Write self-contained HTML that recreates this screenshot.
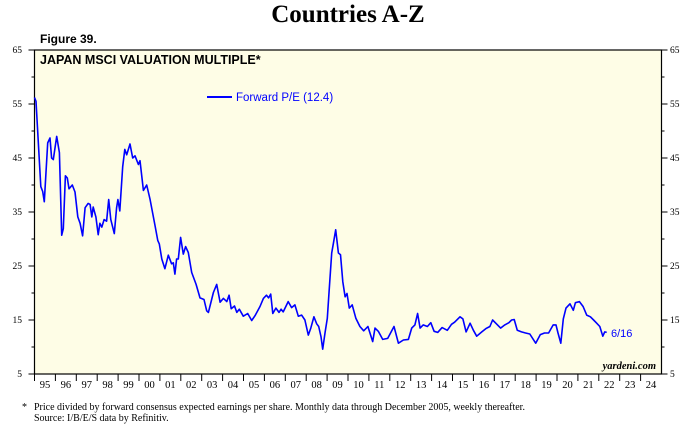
<!DOCTYPE html>
<html><head><meta charset="utf-8"><style>
body{margin:0;background:#fff;width:696px;height:442px;overflow:hidden}
svg{display:block}
</style></head><body>
<svg id="chart" width="696" height="442" xmlns="http://www.w3.org/2000/svg">
<text x="348" y="22" text-anchor="middle" font-family="Liberation Serif" font-weight="bold" font-size="25">Countries A-Z</text>
<text x="40" y="43" font-family="Liberation Sans" font-weight="bold" font-size="12">Figure 39.</text>
<rect x="34.5" y="50" width="627" height="324" fill="#fefde6" stroke="#000" stroke-width="1.2"/>
<text x="40" y="64" font-family="Liberation Sans" font-weight="bold" font-size="12.5">JAPAN MSCI VALUATION MULTIPLE*</text>
<g>
<line x1="207" y1="97" x2="232" y2="97" stroke="#0000ff" stroke-width="2"/>
<text x="236" y="101" font-family="Liberation Sans" font-size="11.5" fill="#0000ff">Forward P/E (12.4)</text>
</g>
<g id="axes"></g>
<path id="series" fill="none" stroke="#0000ff" stroke-width="1.6" stroke-linejoin="round"/>
<text x="611" y="337" font-family="Liberation Sans" font-size="11" fill="#0000ff">6/16</text>
<text x="656" y="369" text-anchor="end" font-family="Liberation Serif" font-style="italic" font-weight="bold" font-size="10.5">yardeni.com</text>
<text x="22" y="410" font-family="Liberation Serif" font-size="10">*</text>
<text x="34" y="410" font-family="Liberation Serif" font-size="10">Price divided by forward consensus expected earnings per share. Monthly data through December 2005, weekly thereafter.</text>
<text x="34" y="421" font-family="Liberation Serif" font-size="10">Source: I/B/E/S data by Refinitiv.</text>
</svg>
<script>
const yearLabels=["95","96","97","98","99","00","01","02","03","04","05","06","07","08","09","10","11","12","13","14","15","16","17","18","19","20","21","22","23","24"];
const yTicks=[5,15,25,35,45,55,65];
const times=[1995.0,1995.07,1995.3,1995.39,1995.47,1995.63,1995.74,1995.82,1995.9,1996.06,1996.19,1996.3,1996.38,1996.48,1996.57,1996.65,1996.81,1996.94,1997.07,1997.18,1997.3,1997.42,1997.57,1997.66,1997.74,1997.81,1997.94,1998.05,1998.13,1998.22,1998.33,1998.45,1998.55,1998.65,1998.82,1998.93,1998.99,1999.08,1999.22,1999.32,1999.41,1999.57,1999.7,1999.81,1999.97,2000.05,2000.21,2000.37,2000.53,2000.77,2000.9,2000.97,2001.09,2001.24,2001.4,2001.56,2001.64,2001.72,2001.8,2001.88,2001.99,2002.12,2002.23,2002.36,2002.52,2002.73,2002.92,2003.11,2003.24,2003.32,2003.56,2003.72,2003.88,2004.04,2004.2,2004.31,2004.41,2004.57,2004.68,2004.8,2004.99,2005.2,2005.39,2005.55,2005.79,2005.95,2006.1,2006.2,2006.3,2006.4,2006.55,2006.7,2006.8,2006.9,2007.14,2007.3,2007.46,2007.62,2007.78,2007.94,2008.1,2008.22,2008.37,2008.5,2008.6,2008.71,2008.79,2008.9,2009.01,2009.1,2009.22,2009.3,2009.41,2009.54,2009.64,2009.75,2009.86,2009.95,2010.06,2010.2,2010.38,2010.57,2010.75,2010.95,2011.18,2011.29,2011.45,2011.66,2011.9,2012.2,2012.41,2012.65,2012.89,2013.05,2013.2,2013.33,2013.45,2013.6,2013.8,2013.96,2014.12,2014.29,2014.5,2014.75,2014.95,2015.1,2015.36,2015.5,2015.65,2015.84,2016.0,2016.16,2016.4,2016.6,2016.79,2016.92,2017.1,2017.3,2017.5,2017.7,2017.83,2017.95,2018.1,2018.3,2018.5,2018.7,2018.98,2019.2,2019.4,2019.6,2019.82,2019.95,2020.05,2020.18,2020.3,2020.43,2020.62,2020.78,2020.88,2021.07,2021.25,2021.42,2021.6,2021.75,2021.9,2022.05,2022.19,2022.28,2022.38];
const pe=[56.2,55.5,39.7,38.8,36.9,47.8,48.7,45,44.7,49,46,30.7,31.9,41.7,41.3,39.3,40,38.7,34.1,32.9,30.6,35.8,36.6,36.4,34.1,35.9,34.1,30.8,32.9,32.2,33.6,33.3,37.3,33.6,31,35.8,37.3,35.2,43.4,46.6,45.6,47.6,45,45.4,43.8,44.5,39,40,37.3,32.4,29.7,29.1,26.3,24.5,27,25.4,25.6,23.5,26.3,26.3,30.3,27.2,28.6,27.5,23.8,21.6,19.1,18.8,16.7,16.4,20.1,21.6,18.3,19,18.4,19.6,17.1,17.6,16.4,17,15.7,16.2,14.9,15.8,17.5,19,19.6,19.1,19.8,16.2,17.2,16.4,17,16.5,18.4,17.3,17.8,15.7,15.9,15,12.2,13.5,15.6,14.3,13.8,11.9,9.6,12.6,15.3,20.6,27.4,29.2,31.7,27.4,27.1,22.1,19.3,19.9,17.2,17.8,15.3,13.8,13,13.8,11,13.5,12.9,11.4,11.6,13.8,10.7,11.3,11.4,13.5,14.1,16.2,13.5,14.1,13.8,14.5,12.9,12.7,13.6,13.1,14.2,14.6,15.6,15.2,12.8,14.4,13.1,12,12.8,13.4,13.8,15,14.3,13.5,14.1,14.5,15,15.1,13.1,12.8,12.6,12.4,10.7,12.3,12.6,12.6,14.1,14.1,12.6,10.7,15.2,17.2,18,16.8,18.2,18.4,17.5,15.9,15.6,15,14.4,13.8,12,12.8,12.7];
const X0=34.5,X1=661.5,Y0=374,Y1=50;
const xs=t=>X0+(t-1995)/30*(X1-X0);
const ys=v=>Y0-(v-5)/60*(Y0-Y1);
const NS="http://www.w3.org/2000/svg";
const ax=document.getElementById('axes');
function mk(tag,attrs,parent){const e=document.createElementNS(NS,tag);for(const k in attrs)e.setAttribute(k,attrs[k]);(parent||ax).appendChild(e);return e;}
yearLabels.forEach((lab,i)=>{
  const t=mk('line',{x1:xs(1995+i),x2:xs(1995+i),y1:Y0,y2:Y0+7,stroke:'#000','stroke-width':1});
  
  
  const tx=mk('text',{x:xs(1995.5+i),y:Y0+14,'text-anchor':'middle','font-family':'Liberation Serif','font-size':10.5});
  tx.textContent=lab;
  
  
});
for(let v=5;v<=65;v+=5){
  const len=(v-5)%10===0?6:3;
  const l=mk('line',{x1:X0-len,x2:X0,y1:ys(v),y2:ys(v),stroke:'#000','stroke-width':1});
  
  
  const r=mk('line',{x1:X1,x2:X1+len,y1:ys(v),y2:ys(v),stroke:'#000','stroke-width':1});
  
  
}
yTicks.forEach(v=>{
  const a=mk('text',{x:22,y:ys(v)+3,'text-anchor':'end','font-family':'Liberation Serif','font-size':9.5});
  a.textContent=v;
  
  
  const b=mk('text',{x:670,y:ys(v)+3,'font-family':'Liberation Serif','font-size':9.5});
  b.textContent=v;
  
  
});
document.getElementById('series').setAttribute('d',times.map((t,i)=>(i?'L':'M')+xs(t).toFixed(1)+','+ys(pe[i]).toFixed(1)).join(''));
</script>
</body></html>
